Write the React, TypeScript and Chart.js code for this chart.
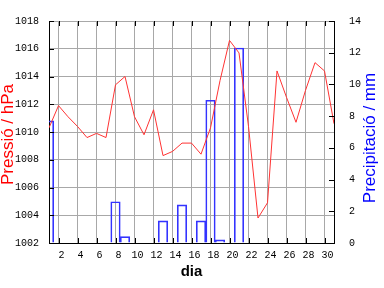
import React, { useEffect, useRef } from "react";
import { Chart, registerables } from "chart.js";

Chart.register(...registerables);

const days = [1, 2, 3, 4, 5, 6, 7, 8, 9, 10, 11, 12, 13, 14, 15, 16, 17, 18, 19, 20, 21, 22, 23, 24, 25, 26, 27, 28, 29, 30, 31];
const pressure = [
  1010.3, 1011.9, 1011.1, 1010.4, 1009.6, 1009.9, 1009.6, 1013.4, 1014.0, 1011.1,
  1009.8, 1011.6, 1008.3, 1008.6, 1009.2, 1009.2, 1008.4, 1010.3, 1013.7, 1016.6,
  1015.7, 1010.4, 1003.8, 1004.9, 1014.4, 1012.5, 1010.7, 1013.0, 1015.0, 1014.4,
  1010.6,
];
const precipitation = [
  7.7, null, null, null, null, null, null, 2.6, 0.4, null,
  null, null, 1.4, null, 2.4, null, 1.4, 9.0, 0.2, null,
  12.3, null, null, null, null, null, null, null, null, null,
  null,
];
const xTickDays = [2, 4, 6, 8, 10, 12, 14, 16, 18, 20, 22, 24, 26, 28, 30];
const pressureTitle = "Pressió / hPa";
const precipTitle = "Precipitació / mm";
const xTitle = "dia";

export default function App() {
  const ref = useRef<HTMLCanvasElement>(null);

  useEffect(() => {
    if (!ref.current) return;
    const tickFont = { family: "'Liberation Mono', 'DejaVu Sans Mono', monospace", size: 10 };
    const gridColor = "#a8a8a8";

    const decorations = {
      id: "decorations",
      afterDatasetsDraw(chart: any) {
        const { ctx, chartArea: a, scales } = chart;
        ctx.save();
        ctx.strokeStyle = "#000";
        ctx.lineWidth = 1;
        ctx.beginPath();
        const L = 5;
        scales.y.ticks.forEach((t: any) => {
          const py = Math.round(scales.y.getPixelForValue(t.value)) + 0.5;
          ctx.moveTo(a.left, py);
          ctx.lineTo(a.left + L, py);
        });
        scales.y2.ticks.forEach((t: any) => {
          const py = Math.round(scales.y2.getPixelForValue(t.value)) + 0.5;
          ctx.moveTo(a.right, py);
          ctx.lineTo(a.right - L, py);
        });
        scales.x.ticks.forEach((t: any) => {
          const px = Math.round(scales.x.getPixelForValue(t.value)) + 0.5;
          ctx.moveTo(px, a.bottom);
          ctx.lineTo(px, a.bottom - L);
          ctx.moveTo(px, a.top);
          ctx.lineTo(px, a.top + L);
        });
        ctx.stroke();
        ctx.restore();
      },
      afterDraw(chart: any) {
        const { ctx, chartArea: a } = chart;
        const midY = (a.top + a.bottom) / 2;
        ctx.save();
        ctx.font = "17px 'Liberation Sans', Arial, sans-serif";
        ctx.textAlign = "center";
        ctx.textBaseline = "alphabetic";
        ctx.fillStyle = "#ff0000";
        ctx.translate(a.left - 36, midY + 2.5);
        ctx.rotate(-Math.PI / 2);
        ctx.fillText(pressureTitle, 0, 0);
        ctx.restore();

        ctx.save();
        ctx.font = "17px 'Liberation Sans', Arial, sans-serif";
        ctx.textAlign = "center";
        ctx.textBaseline = "alphabetic";
        ctx.fillStyle = "#0000ff";
        ctx.translate(a.right + 41, midY + 6);
        ctx.rotate(-Math.PI / 2);
        ctx.fillText(precipTitle, 0, 0);
        ctx.restore();
      },
    };

    const chart = new Chart(ref.current, {
      type: "bar",
      data: {
        datasets: [
          {
            type: "line",
            label: pressureTitle,
            data: days.map((d, i) => ({ x: d, y: pressure[i] })),
            borderColor: "#ff3333",
            borderWidth: 1,
            pointRadius: 0,
            tension: 0,
            fill: false,
            xAxisID: "x",
            yAxisID: "y",
            order: 0,
          } as any,
          {
            type: "bar",
            label: precipTitle,
            data: days.map((d, i) => ({ x: d, y: precipitation[i] })),
            borderColor: "#3333ff",
            backgroundColor: "rgba(0,0,0,0)",
            borderWidth: 1,
            barPercentage: 1,
            categoryPercentage: 1,
            xAxisID: "x",
            yAxisID: "y2",
            clip: 0,
            order: 1,
          } as any,
        ],
      },
      options: {
        animation: false,
        responsive: false,
        events: [],
        layout: { padding: { top: 2, left: 0, right: 0, bottom: 0 } },
        plugins: { legend: { display: false }, tooltip: { enabled: false } },
        scales: {
          x: {
            type: "linear",
            position: "bottom",
            min: 1,
            max: 31,
            offset: false,
            afterBuildTicks: (s: any) => {
              s.ticks = xTickDays.map((v) => ({ value: v }));
            },
            afterFit: (s: any) => {
              s.height = 45;
            },
            grid: { color: gridColor, lineWidth: 1, drawTicks: false, offset: false },
            border: { display: true, color: "#000", width: 1 },
            ticks: {
              autoSkip: false,
              maxRotation: 0,
              padding: 6,
              labelOffset: 3,
              color: "#000",
              font: tickFont,
              callback: (v: any) => String(v),
            },
            title: {
              display: true,
              text: xTitle,
              color: "#000",
              font: { family: "'Liberation Sans', Arial, sans-serif", size: 15, weight: "bold" },
              padding: { top: 0, bottom: 7 },
            },
          },
          y: {
            type: "linear",
            position: "left",
            min: 1002,
            max: 1018,
            afterFit: (s: any) => {
              s.width = 49;
            },
            grid: { color: gridColor, lineWidth: 1, drawTicks: false },
            border: { display: true, color: "#000", width: 1 },
            ticks: {
              stepSize: 2,
              padding: 10,
              color: "#000",
              font: tickFont,
              callback: (v: any) => String(v),
            },
          },
          y2: {
            type: "linear",
            position: "right",
            min: 0,
            max: 14,
            afterFit: (s: any) => {
              s.width = 50;
            },
            grid: { drawOnChartArea: false, drawTicks: false },
            border: { display: true, color: "#000", width: 1 },
            ticks: {
              stepSize: 2,
              padding: 15,
              color: "#000",
              font: tickFont,
              callback: (v: any) => String(v),
            },
          },
        },
      } as any,
      plugins: [decorations],
    });

    return () => chart.destroy();
  }, []);

  return (
    <div style={{ position: "fixed", left: 0, top: 0, width: 384, height: 288, background: "#fff" }}>
      <canvas ref={ref} width={384} height={288} style={{ display: "block" }} />
    </div>
  );
}
